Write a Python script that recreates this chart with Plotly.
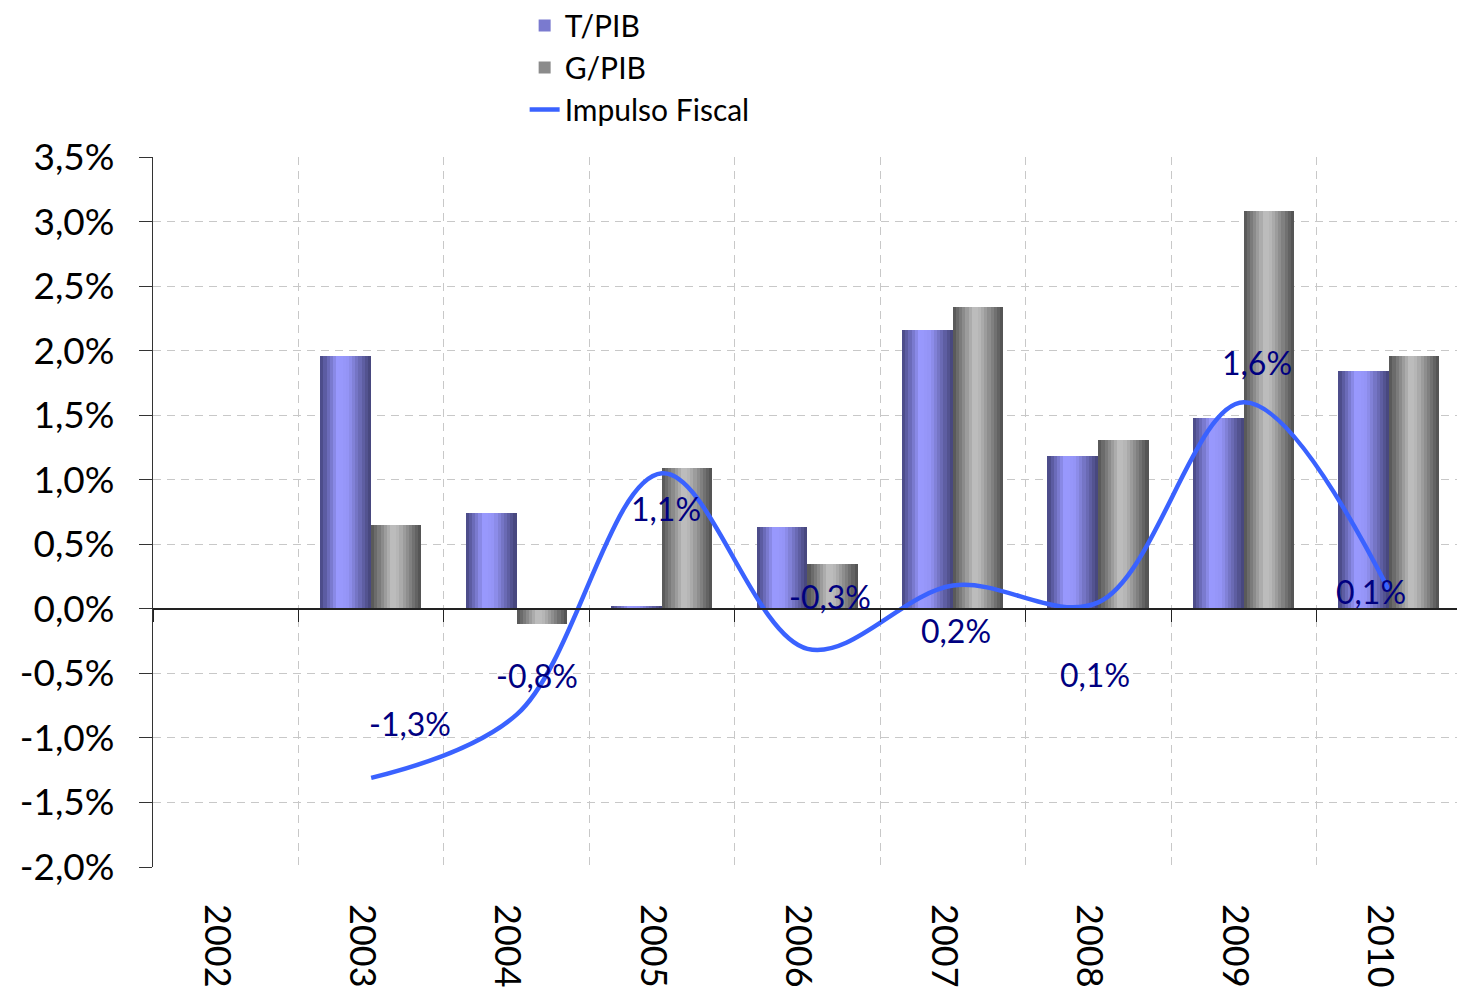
import plotly.graph_objects as go

# ---------------- data ----------------
years = ["2002", "2003", "2004", "2005", "2006", "2007", "2008", "2009", "2010"]
t_pib = [None, 1.96, 0.74, 0.02, 0.63, 2.16, 1.18, 1.48, 1.84]
g_pib = [None, 0.65, -0.12, 1.09, 0.35, 2.34, 1.31, 3.08, 1.96]
impulse_years = ["2003", "2004", "2005", "2006", "2007", "2008", "2009", "2010"]
impulse = [-1.31, -0.82, 1.05, -0.31, 0.18, 0.05, 1.60, 0.14]
impulse_labels = ["-1,3%", "-0,8%", "1,1%", "-0,3%", "0,2%", "0,1%", "1,6%", "0,1%"]
y_ticks = [-2.0, -1.5, -1.0, -0.5, 0.0, 0.5, 1.0, 1.5, 2.0, 2.5, 3.0, 3.5]
y_tick_labels = ["-2,0%", "-1,5%", "-1,0%", "-0,5%", "0,0%", "0,5%",
                 "1,0%", "1,5%", "2,0%", "2,5%", "3,0%", "3,5%"]

# ---------------- style ----------------
FONT = "Lato"
T_STOPS = [(0.0, (70, 70, 128)), (0.35, (153, 153, 255)), (0.55, (148, 148, 245)), (1.0, (66, 66, 118))]
G_STOPS = [(0.0, (82, 82, 82)), (0.42, (192, 192, 192)), (0.55, (180, 180, 180)), (1.0, (78, 78, 78))]
N_SLICES = 16
T_WIDTH = 0.35
G_WIDTH = 0.345
# label offsets (px) relative to each line point
LABEL_SHIFTS = [(39, 54), (20, 39), (4, -35), (23, 52), (3, -45), (-3, -72), (13, 40), (-18, -1)]


def grad(stops, t):
    for (t0, c0), (t1, c1) in zip(stops[:-1], stops[1:]):
        if t0 <= t <= t1:
            f = (t - t0) / (t1 - t0) if t1 > t0 else 0
            c = [round(a + (b - a) * f) for a, b in zip(c0, c1)]
            return "rgb(%d,%d,%d)" % tuple(c)
    return "rgb(%d,%d,%d)" % stops[-1][1]


fig = go.Figure()


def add_gradient_bars(values, name, stops, start, width, rank, legend_t):
    step = width / N_SLICES
    legend_i = int(legend_t * (N_SLICES - 1))
    for i in range(N_SLICES):
        t = (i + 0.5) / N_SLICES
        w = step * 1.6 if i < N_SLICES - 1 else step
        fig.add_trace(go.Bar(
            x=years, y=values, name=name,
            offset=start + i * step, width=w,
            marker=dict(color=grad(stops, t), line=dict(width=0)),
            legendgroup=name, showlegend=(i == legend_i), legendrank=rank,
            hoverinfo="skip" if i != legend_i else None,
        ))


add_gradient_bars(t_pib, "T/PIB", T_STOPS, -T_WIDTH, T_WIDTH, 1, 0.25)
add_gradient_bars(g_pib, "G/PIB", G_STOPS, 0.0, G_WIDTH, 2, 0.2)

fig.add_trace(go.Scatter(
    x=impulse_years, y=impulse, name="Impulso Fiscal", mode="lines",
    line=dict(color="#3a62ff", width=4.5, shape="spline", smoothing=1.0),
    legendrank=3,
))

# invisible trace to carry the category labels along the bottom axis
fig.add_trace(go.Scatter(
    x=years, y=[0] * len(years), xaxis="x2", mode="markers",
    marker=dict(opacity=0), showlegend=False, hoverinfo="skip",
))

annotations = []
for yr, v, txt, (dx, dy) in zip(impulse_years, impulse, impulse_labels, LABEL_SHIFTS):
    annotations.append(dict(
        x=years.index(yr), y=v, xref="x", yref="y", text=txt, showarrow=False,
        xshift=dx, yshift=dy, xanchor="center", yanchor="middle",
        font=dict(family=FONT, size=32, color="#000080"),
    ))

XR = [-0.5, 8.466]
LABEL_SHIFT = 0.065  # category labels sit slightly left of the category centre
fig.update_layout(
    width=1457, height=994,
    margin=dict(l=153, r=0, t=157, b=127, autoexpand=False),
    plot_bgcolor="white", paper_bgcolor="white",
    barmode="overlay", bargap=0,
    font=dict(family=FONT, size=30, color="black"),
    annotations=annotations,
    legend=dict(x=0.285, y=1.222, xanchor="left", yanchor="top",
                font=dict(family=FONT, size=30, color="black"),
                tracegroupgap=0, bgcolor="rgba(0,0,0,0)"),
    xaxis=dict(
        type="category", categoryorder="array", categoryarray=years, range=XR,
        anchor="free", position=(0 - y_ticks[0]) / (y_ticks[-1] - y_ticks[0]),
        showline=True, linecolor="#222222", linewidth=1.5,
        ticks="outside", ticklen=12, tickcolor="#222222", tickwidth=1.3,
        tickson="boundaries", showticklabels=False,
        showgrid=True, gridcolor="#c8c8c8", griddash="8px,6px", gridwidth=1,
        zeroline=False,
    ),
    xaxis2=dict(
        type="category", categoryorder="array", categoryarray=years,
        range=[XR[0] + LABEL_SHIFT, XR[1] + LABEL_SHIFT],
        overlaying="x", anchor="y", side="bottom",
        showline=False, ticks="", showgrid=False, zeroline=False,
        tickangle=90, ticklabelstandoff=36,
        tickfont=dict(family=FONT, size=36, color="black"),
    ),
    yaxis=dict(
        range=[y_ticks[0], y_ticks[-1]], tickvals=y_ticks, ticktext=y_tick_labels,
        showline=True, linecolor="#333333", linewidth=1.3,
        ticks="outside", ticklen=13, tickcolor="#333333",
        ticklabelstandoff=17,
        tickfont=dict(family=FONT, size=37, color="black"),
        showgrid=True, gridcolor="#c8c8c8", griddash="8px,6px", gridwidth=1,
        zeroline=False,
    ),
)

fig.write_html("out.html", config={"displayModeBar": False},
               post_script="document.body.style.margin='0';document.body.style.overflow='hidden';")
